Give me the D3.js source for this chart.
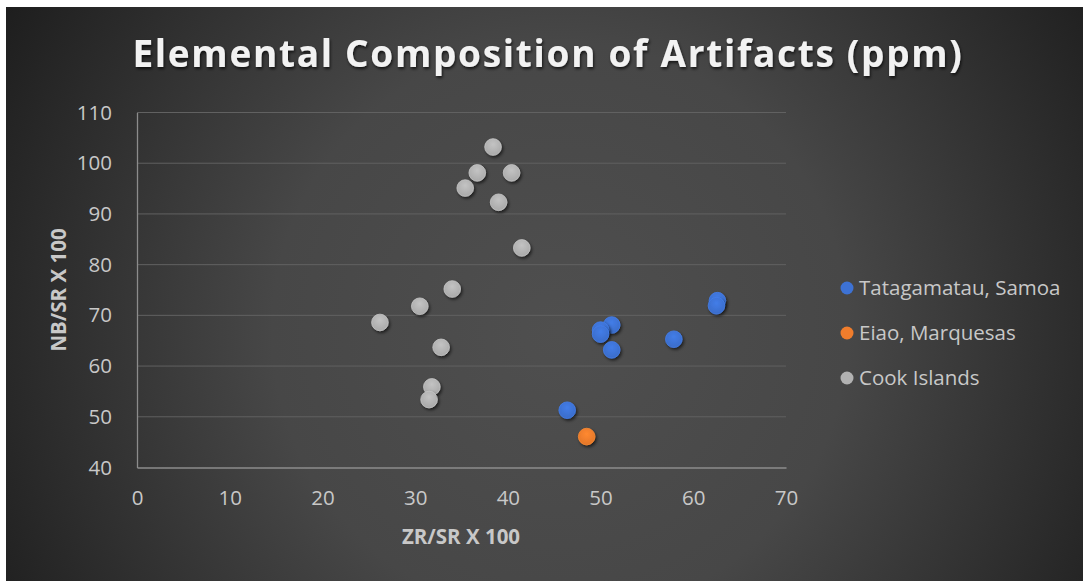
<!DOCTYPE html>
<html><head><meta charset="utf-8">
<script src="https://cdn.jsdelivr.net/npm/d3@7"></script>
<style>html,body{margin:0;padding:0;background:#fff;}svg{display:block;}</style>
</head><body>
<script>
const title = "Elemental Composition of Artifacts (ppm)";
const xTitle = "ZR/SR X 100";
const yTitle = "NB/SR X 100";
const xTicks = [0,10,20,30,40,50,60,70];
const yTicks = [40,50,60,70,80,90,100,110];
const seriesNames = ["Tatagamatau, Samoa","Eiao, Marquesas","Cook Islands"];
const seriesColors = ["#3d72d4","#f07d2c","#b2b2b2"];
const samoaX = [62.6,62.5,51.2,50.0,50.0,51.2,57.9,46.4];
const samoaY = [72.9,71.9,68.1,67.1,66.3,63.2,65.3,51.3];
const eiaoX = [48.5];
const eiaoY = [46.1];
const cookX = [38.4,36.7,40.4,35.4,39.0,41.5,34.0,30.5,26.2,32.8,31.8,31.5];
const cookY = [103.2,98.1,98.1,95.1,92.3,83.3,75.2,71.8,68.6,63.7,55.9,53.4];

const W=1083,H=581;
const svg=d3.select("body").append("svg").attr("width",W).attr("height",H);
const defs=svg.append("defs");
const bg=defs.append("radialGradient").attr("id","bg").attr("gradientUnits","userSpaceOnUse")
  .attr("cx",560).attr("cy",330).attr("r",640);
bg.append("stop").attr("offset","0").attr("stop-color","#4f4f4f");
bg.append("stop").attr("offset","0.45").attr("stop-color","#474747");
bg.append("stop").attr("offset","1").attr("stop-color","#1e1e1e");
const sh=defs.append("filter").attr("id","sh").attr("x","-50%").attr("y","-50%").attr("width","200%").attr("height","200%");
sh.append("feDropShadow").attr("dx",1.5).attr("dy",2).attr("stdDeviation",1.6).attr("flood-color","#000").attr("flood-opacity",0.6);
const tsh=defs.append("filter").attr("id","tsh").attr("x","-10%").attr("y","-30%").attr("width","120%").attr("height","160%");
tsh.append("feDropShadow").attr("dx",1).attr("dy",2).attr("stdDeviation",1.5).attr("flood-color","#000").attr("flood-opacity",0.7);
seriesColors.forEach((c,i)=>{
  const g=defs.append("radialGradient").attr("id","m"+i).attr("cx","50%").attr("cy","35%").attr("r","65%");
  g.append("stop").attr("offset","0").attr("stop-color",d3.color(c).brighter(0.25));
  g.append("stop").attr("offset","1").attr("stop-color",d3.color(c).darker(0.15));
});

svg.append("rect").attr("x",6).attr("y",7).attr("width",W-6).attr("height",H-7).attr("fill","url(#bg)");

const x=d3.scaleLinear().domain([0,70]).range([137,786]);
const y=d3.scaleLinear().domain([40,110]).range([467.5,112.5]);

// gridlines
svg.append("g").selectAll("line").data(yTicks.filter(d=>d>40)).join("line")
  .attr("x1",x(0)).attr("x2",x(70)).attr("y1",d=>y(d)).attr("y2",d=>y(d))
  .attr("stroke","#616161").attr("stroke-width",1);

// axes
const xAxis=svg.append("g").attr("transform",`translate(0,${y(40)})`)
  .call(d3.axisBottom(x).tickValues(xTicks).tickSize(0).tickPadding(30));
const yAxis=svg.append("g").attr("transform",`translate(${x(0)},0)`)
  .call(d3.axisLeft(y).tickValues(yTicks).tickSize(0).tickPadding(25));
[xAxis,yAxis].forEach(a=>{
  a.select(".domain").attr("stroke","#8c8c8c").attr("stroke-width",1.3);
  a.selectAll("text").attr("fill","#c8c8c8").style("font-family","'Open Sans',sans-serif").style("font-size","20.5px");
});
xAxis.selectAll("text").attr("dy","0.35em");

// axis titles
svg.append("text").attr("x",461).attr("y",544).attr("text-anchor","middle")
  .attr("fill","#c8c8c8").style("font-family","'Open Sans',sans-serif").style("font-weight","bold").style("font-size","20.5px")
  .text(xTitle);
svg.append("text").attr("transform","translate(66,290) rotate(-90)").attr("text-anchor","middle")
  .attr("fill","#c8c8c8").style("font-family","'Open Sans',sans-serif").style("font-weight","bold").style("font-size","20.5px")
  .text(yTitle);

// title
svg.append("text").attr("x",548).attr("y",67).attr("text-anchor","middle")
  .attr("fill","#f2f2f2").attr("filter","url(#tsh)")
  .style("font-family","'Open Sans',sans-serif").style("font-weight","bold").style("font-size","37px")
  .style("letter-spacing","1.7px").text(title);

// points
const series=[[samoaX,samoaY],[eiaoX,eiaoY],[cookX,cookY]];
const order=[2,0,1];
order.forEach(i=>{
  const [xs,ys]=series[i];
  svg.append("g").selectAll("circle").data(xs.map((v,k)=>[v,ys[k]])).join("circle")
    .attr("cx",d=>x(d[0])).attr("cy",d=>y(d[1])).attr("r",8.3)
    .attr("fill",`url(#m${i})`).attr("stroke",d3.color(seriesColors[i]).brighter(0.3)).attr("stroke-width",0.8)
    .attr("filter","url(#sh)");
});

// legend
const lg=svg.append("g");
seriesNames.forEach((n,i)=>{
  const ly=288+i*45;
  lg.append("circle").attr("cx",847).attr("cy",ly).attr("r",6.5).attr("fill",seriesColors[i]);
  lg.append("text").attr("x",859).attr("y",ly).attr("dy","0.35em")
    .attr("fill","#c8c8c8").style("font-family","'Open Sans',sans-serif").style("font-size","20.5px").text(n);
});
</script>
</body></html>
